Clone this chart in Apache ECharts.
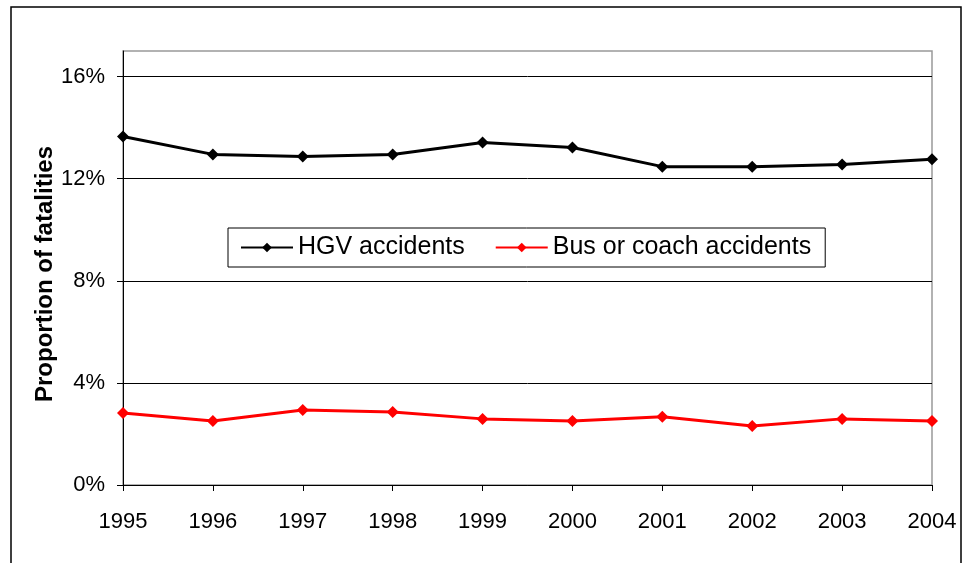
<!DOCTYPE html>
<html>
<head>
<meta charset="utf-8">
<script src="https://cdn.jsdelivr.net/npm/echarts@6/dist/echarts.min.js"></script>
<style>
html, body { margin: 0; padding: 0; background: #fff; }
#chart { width: 970px; height: 563px; }
</style>
</head>
<body>
<div id="chart"></div>
<script>
var years = ['1995', '1996', '1997', '1998', '1999', '2000', '2001', '2002', '2003', '2004'];
var hgv = [13.65, 12.95, 12.87, 12.95, 13.42, 13.22, 12.47, 12.47, 12.55, 12.76];
var bus = [2.82, 2.51, 2.94, 2.86, 2.59, 2.51, 2.67, 2.31, 2.59, 2.51];
var yTitle = 'Proportion of fatalities';

var font = '"Liberation Sans", Arial, sans-serif';

var myChart = echarts.init(document.getElementById('chart'));
var option = {
    backgroundColor: '#fff',
    animation: false,
    textStyle: { fontFamily: font },
    graphic: [{
        type: 'rect',
        shape: { x: 11, y: 7, width: 950, height: 600 },
        style: { fill: 'none', stroke: '#000', lineWidth: 1.5 }
    }, {
        type: 'text',
        x: 45, y: 274,
        rotation: Math.PI / 2,
        style: {
            text: yTitle,
            font: 'bold 24px "Liberation Sans", Arial, sans-serif',
            fill: '#000',
            align: 'center',
            verticalAlign: 'middle'
        }
    }],
    grid: {
        left: 123, right: 38, top: 51, bottom: 78,
        show: true, borderColor: '#999', borderWidth: 1.5,
        containLabel: false
    },
    legend: {
        left: 228, top: 228,
        padding: [7, 14, 7, 12],
        itemGap: 30,
        itemWidth: 52, itemHeight: 12,
        borderColor: '#000', borderWidth: 1,
        backgroundColor: '#fff',
        textStyle: { fontSize: 25, color: '#000', fontFamily: font },
        data: ['HGV accidents', 'Bus or coach accidents']
    },
    xAxis: {
        type: 'category',
        data: years,
        boundaryGap: false,
        axisLine: { lineStyle: { color: '#000', width: 1 } },
        axisTick: { show: true, length: 6, lineStyle: { color: '#000' } },
        axisLabel: { fontSize: 22, color: '#000', margin: 26, fontFamily: font },
        splitLine: { show: false }
    },
    yAxis: {
        type: 'value',
        min: 0, max: 17, interval: 4,
        axisLine: { show: true, lineStyle: { color: '#000', width: 1 } },
        axisTick: { show: true, length: 6, lineStyle: { color: '#000' } },
        axisLabel: {
            fontSize: 22, color: '#000', margin: 18, fontFamily: font,
            showMaxLabel: false,
            formatter: function (v) { return v % 4 === 0 ? v + '%' : ''; }
        },
        splitLine: { show: true, showMaxLine: false, lineStyle: { color: '#000', width: 1 } }
    },
    series: [{
        name: 'HGV accidents',
        type: 'line',
        data: hgv,
        symbol: 'diamond',
        symbolSize: 12,
        lineStyle: { color: '#000', width: 3 },
        itemStyle: { color: '#000' }
    }, {
        name: 'Bus or coach accidents',
        type: 'line',
        data: bus,
        symbol: 'diamond',
        symbolSize: 12,
        lineStyle: { color: '#ff0000', width: 3 },
        itemStyle: { color: '#ff0000' }
    }]
};
myChart.setOption(option);
</script>
</body>
</html>
